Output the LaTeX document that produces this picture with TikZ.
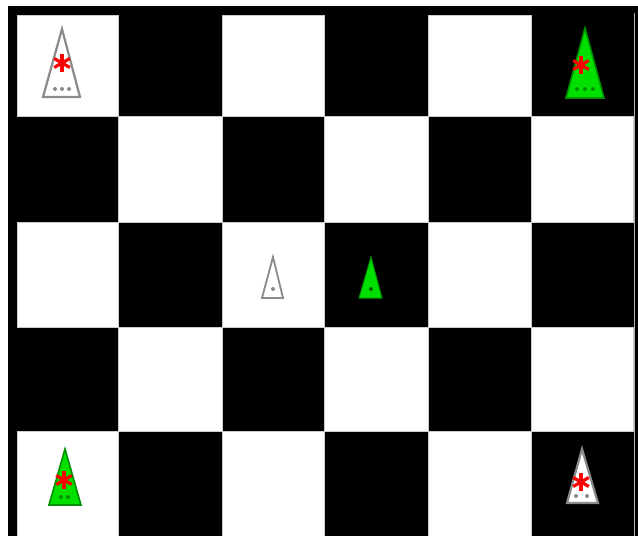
\documentclass[tikz,border=0pt]{standalone}
\usepackage{xcolor}
\usepackage{tikz}
\definecolor{cone}{HTML}{00E000}
\definecolor{coneedge}{HTML}{009000}
\definecolor{pipgray}{HTML}{8A8A8A}

\begin{document}
\begin{tikzpicture}[x=1pt,y=-1pt,
  wcone/.style={draw=pipgray,line width=2.2pt,fill=white},
  gcone/.style={draw=coneedge,line width=1.6pt,fill=cone},
  star/.style={draw=red,line width=3.2pt},
  pip/.style={fill=pipgray}]
\useasboundingbox (0,0) rectangle (638,536);
\fill[white] (0,0) rectangle (638,536);
\fill[black] (8,6) rectangle (638,536);
% board
\foreach \xa/\xb [count=\c] in {17/118,118/222,222/324,324/428,428/531,531/633}
  \foreach \ya/\yb [count=\r] in {15/116,116/222,222/327,327/431,431/540}
  {
    \pgfmathtruncatemacro{\odd}{mod(\c+\r,2)}
    \ifnum\odd=0 \filldraw[fill=white,draw=gray!40,line width=.6pt] (\xa,\ya) rectangle (\xb,\yb); \fi
  }
\draw[gray!60,line width=1pt] (634,13) -- (634,536);
% top left
\draw[wcone] (62,29) -- (80,97) -- (43,97) -- cycle;
\foreach \px in {55,62,69} \fill[pip] (\px,89) circle (2);
\foreach \a in {90,30,150} \draw[star] (62,63) ++(\a:9) -- ++(\a+180:18);
% top right
\draw[gcone] (585,28) -- (604,98) -- (566,98) -- cycle;
\foreach \px in {577,585,593} \fill[coneedge] (\px,89) circle (2);
\foreach \a in {90,30,150} \draw[star] (581,65) ++(\a:9) -- ++(\a+180:18);
% middle
\draw[wcone,line width=1.8pt] (273,257) -- (283,298) -- (262,298) -- cycle;
\fill[pip] (273,289) circle (2);
\draw[gcone,line width=1pt] (371,257) -- (382,298) -- (359,298) -- cycle;
\fill[coneedge!70!black] (371,289) circle (2);
% bottom left
\draw[gcone] (65,449) -- (81,505) -- (49,505) -- cycle;
\foreach \px in {61,68} \fill[coneedge] (\px,497) circle (2);
\foreach \a in {90,30,150} \draw[star] (64,480) ++(\a:9) -- ++(\a+180:18);
% bottom right
\draw[wcone] (582,449) -- (598,503) -- (567,503) -- cycle;
\foreach \px in {576,587} \fill[pip] (\px,496) circle (2);
\foreach \a in {90,30,150} \draw[star] (581,482) ++(\a:9) -- ++(\a+180:18);
\end{tikzpicture}
\end{document}
